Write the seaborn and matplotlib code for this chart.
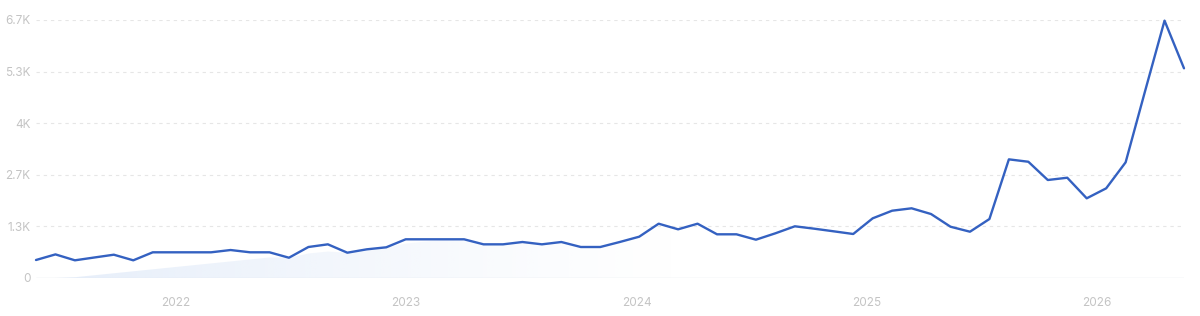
import numpy as np
import pandas as pd
import matplotlib
matplotlib.use("Agg")
import matplotlib.pyplot as plt
import seaborn as sns

# ---- data ----
values = [465, 610, 457, 530, 602, 457, 664, 664, 664, 664,
          723, 664, 664, 524, 801, 870, 654, 741, 793, 1000,
          1000, 1000, 1000, 870, 870, 930, 870, 930, 801, 801,
          930, 1067, 1403, 1258, 1403, 1129, 1129, 990, 1155, 1336,
          1274, 1206, 1137, 1542, 1739, 1801, 1653, 1325, 1196, 1524,
          3066, 3004, 2532, 2591, 2059, 2317, 2989, 4830, 6650, 5418]
year_labels = ["2022", "2023", "2024", "2025", "2026"]
y_ticks = [0, 4000 / 3, 8000 / 3, 4000, 16000 / 3, 20000 / 3]
y_labels = ["0", "1.3K", "2.7K", "4K", "5.3K", "6.7K"]

# ---- style ----
LINE = "#3461c1"
TXT = "#c4c4c4"
GRID = "#e6e6e6"
year_pos = [7.2, 19.0, 30.9, 42.7, 54.5]

df = pd.DataFrame({"idx": np.arange(len(values)), "value": values})

sns.set_theme(style="white")
plt.rcParams["font.family"] = ["Inter", "DejaVu Sans"]

fig = plt.figure(figsize=(12, 3.16), dpi=100)
ax = fig.add_axes([36 / 1200, 38 / 316, 1148 / 1200, 258 / 316])

x = df["idx"].to_numpy(dtype=float)
y = df["value"].to_numpy(dtype=float)

# light reveal-style gradient fill under the line
ramp = np.clip((x - 1.6) * 51.0, 0, None)
top = np.minimum(y, ramp)
poly = ax.fill_between(x, 0, top, color="none", lw=0)
tt = np.linspace(0, 1, 512)
grad = np.clip(1 - tt / 0.56, 0, 1) ** 1.2 * 0.75
rgba = np.zeros((1, 512, 4))
rgba[..., 0] = 0xdd / 255
rgba[..., 1] = 0xe8 / 255
rgba[..., 2] = 0xf8 / 255
rgba[..., 3] = grad
im = ax.imshow(rgba, extent=[0, 59, 0, 6666.7], aspect="auto", zorder=1,
               interpolation="bilinear")
im.set_clip_path(poly.get_paths()[0], transform=ax.transData)

# grid lines
for t in y_ticks[1:]:
    ax.axhline(t, color=GRID, lw=0.8, ls=(0, (3, 3.5)), zorder=0.5)
ax.axhline(0, color="#e4e8ef", lw=1.0, zorder=0.6)

sns.lineplot(data=df, x="idx", y="value", ax=ax, color=LINE, lw=1.7,
             zorder=3, clip_on=False)

ax.set_xlim(0, 59)
ax.set_ylim(0, 20000 / 3)
ax.set_xticks(year_pos)
ax.set_xticklabels(year_labels)
ax.set_yticks(y_ticks)
ax.set_yticklabels(y_labels)
ax.tick_params(axis="both", length=0, labelsize=8.5, labelcolor=TXT)
ax.tick_params(axis="x", pad=14)
ax.tick_params(axis="y", pad=4)
ax.set_xlabel("")
ax.set_ylabel("")
for s in ax.spines.values():
    s.set_visible(False)

fig.savefig("out.png", dpi=100, facecolor="white")
